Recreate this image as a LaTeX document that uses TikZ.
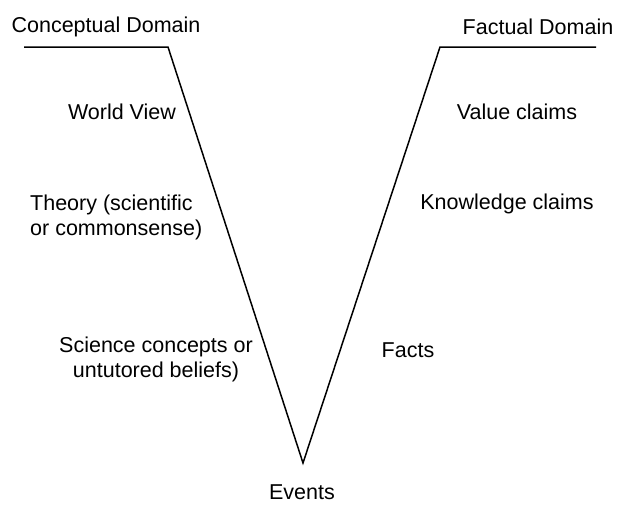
\documentclass[tikz,border=0pt]{standalone}
\usepackage{fontspec}
\setmainfont{Liberation Sans}
\begin{document}
\begin{tikzpicture}[x=1pt,y=-1pt,
  lbl/.style={inner sep=0pt,font=\fontsize{21.5}{25}\selectfont},
  vline/.style={line width=1.5pt,line join=miter}]
\useasboundingbox (0,0) rectangle (618,506);
\coordinate (l0) at (24,47);
\coordinate (l1) at (168,47);
\coordinate (b) at (303,463);
\coordinate (r1) at (440,47);
\coordinate (r0) at (596,47);
\draw[vline] (l0) -- (l1) -- (b) -- (r1) -- (r0);
\node[lbl] (cd) at (106,27) {Conceptual Domain};
\node[lbl] (fd) at (538,27) {Factual Domain};
\node[lbl] (wv) at (122,112) {World View};
\node[lbl] (vc) at (517,112) {Value claims};
\node[lbl,align=left,anchor=west] (th) at (30,217) {Theory (scientific\\ or commonsense)};
\node[lbl] (kc) at (507,204) {Knowledge claims};
\node[lbl,align=center] (sc) at (156,359) {Science concepts or\\untutored beliefs)};
\node[lbl] (fa) at (408,350) {Facts};
\node[lbl] (ev) at (302,492) {Events};
\end{tikzpicture}
\end{document}
